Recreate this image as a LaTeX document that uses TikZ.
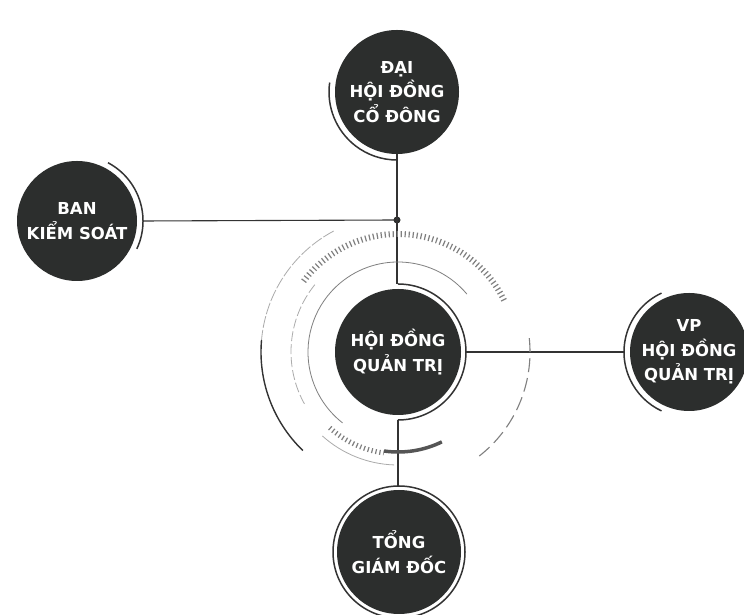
\documentclass[tikz,border=0pt]{standalone}
\usepackage{fontspec}
\setmainfont{DejaVu Sans}
\usetikzlibrary{calc}
\definecolor{nodefill}{HTML}{2C2E2D}
\definecolor{linecol}{HTML}{333333}
\definecolor{decogray}{HTML}{7F7F7F}
\definecolor{lightdeco}{HTML}{ABABAB}
\definecolor{thickdeco}{HTML}{555555}
\begin{document}
\begin{tikzpicture}[x=1pt,y=1pt,
  bignode/.style={circle, fill=nodefill, text=white, inner sep=0pt,
    minimum size=#1, align=center,
    font=\bfseries\fontsize{16.5}{24.5}\selectfont},
  conn/.style={draw=linecol, line width=1.1pt},
  ring/.style={draw=linecol, line width=1.5pt},
  thinarc/.style={draw=decogray, line width=0.8pt},
  lightarc/.style={draw=lightdeco, line width=0.8pt},
  hatcharc/.style={draw=decogray, line width=#1, dash pattern=on 1.2pt off 2.8pt},
  dasharc/.style={draw=decogray, line width=1.1pt, dash pattern=on 14pt off 6pt}
]
\useasboundingbox (0,0) rectangle (744,615);
\fill[white] (0,0) rectangle (744,615);

% nodes
\node[bignode=124pt] (T) at (397,523) {ĐẠI\\HỘI ĐỒNG\\CỔ ĐÔNG};
\node[bignode=120pt] (L) at (77,394) {BAN\\KIỂM SOÁT};
\node[bignode=126pt] (C) at (398,263) {HỘI ĐỒNG\\QUẢN TRỊ};
\node[bignode=118pt] (R) at (689,263) {VP\\HỘI ĐỒNG\\QUẢN TRỊ};
\node[bignode=124pt] (B) at (399,63) {TỔNG\\GIÁM ĐỐC};
\node[circle, fill=nodefill, inner sep=0pt, minimum size=7pt] (D) at (397,395) {};

% rings around nodes
\draw[ring] (T.center) ++(172:68) arc[start angle=172, end angle=270, radius=68];
\draw[ring] (L.center) ++(62:66) arc[start angle=62, end angle=-25, radius=66];
\draw[ring] (C.center) ++(90:68) arc[start angle=90, end angle=-90, radius=68];
\draw[ring] (R.center) ++(115:65) arc[start angle=115, end angle=245, radius=65];
\draw[ring] (B.center) circle[radius=66];

% connector anchors
\coordinate (Le) at ($(L.center)+(66,0)$);
\coordinate (Ct) at ($(C.center)+(0,68)$);
\coordinate (Ce) at ($(C.center)+(68,0)$);
\coordinate (Cb) at ($(C.center)+(0,-68)$);
\coordinate (Rw) at ($(R.center)+(-65,0)$);
\coordinate (Bt) at ($(B.center)+(0,66)$);

% connectors
\draw[conn] (T.south) -- (D.center);
\draw[conn] (Le) -- (D.center);
\draw[conn] (D.center) -- (D.center |- Ct);
\draw[conn] (Ce) -- (Rw);
\draw[conn] (Cb) -- (Cb |- Bt);

% decorative arcs around the central node
\draw[lightarc, dash pattern=on 12pt off 2pt] (C.center) ++(118:137) arc[start angle=118, end angle=175, radius=137];
\draw[draw=linecol, line width=1.4pt] (C.center) ++(175:137) arc[start angle=175, end angle=226, radius=137];
\draw[hatcharc=6pt] (C.center) ++(26:118) arc[start angle=26, end angle=144, radius=118];
\draw[thinarc] (C.center) ++(40:90) arc[start angle=40, end angle=232, radius=90];
\draw[lightarc, dash pattern=on 10pt off 3pt] (C.center) ++(141:107) arc[start angle=141, end angle=210, radius=107];
\draw[hatcharc=5pt] (C.center) ++(228:102) arc[start angle=228, end angle=262, radius=102];
\draw[lightarc] (C.center) ++(228:113) arc[start angle=228, end angle=268, radius=113];
\draw[draw=thickdeco, line width=3.5pt] (C.center) ++(262:100) arc[start angle=262, end angle=296, radius=100];
\draw[dasharc] (C.center) ++(6:132) arc[start angle=6, end angle=-52, radius=132];
\end{tikzpicture}
\end{document}
